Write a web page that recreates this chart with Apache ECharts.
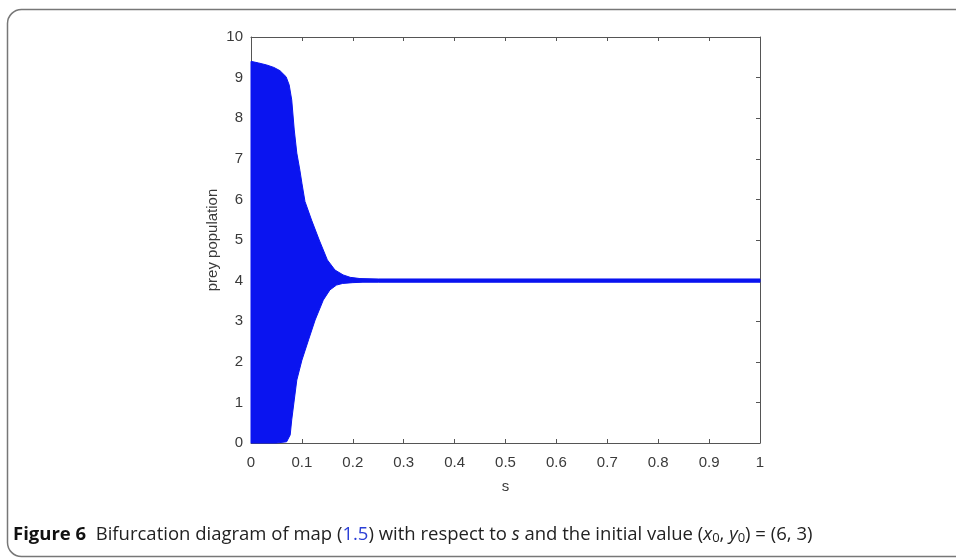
<!DOCTYPE html>
<html>
<head>
<meta charset="utf-8">
<script src="https://cdn.jsdelivr.net/npm/echarts@6/dist/echarts.min.js"></script>
<style>
  html, body { margin: 0; padding: 0; background: #fff; }
  #main { width: 956px; height: 558px; }
</style>
</head>
<body>
<div id="main"></div>
<script>
// upper edge of the blue band (s, prey population)
var upperS = [0, 0.015, 0.031, 0.045, 0.057, 0.069, 0.075, 0.080, 0.085, 0.090, 0.096, 0.100, 0.106, 0.119, 0.134, 0.150, 0.165, 0.181, 0.195, 0.214, 0.25, 1];
var upperV = [9.40, 9.36, 9.31, 9.25, 9.17, 9.02, 8.82, 8.45, 7.71, 7.14, 6.72, 6.40, 5.95, 5.49, 5.00, 4.51, 4.26, 4.14, 4.08, 4.05, 4.04, 4.04];
// lower edge of the blue band
var lowerS = [0, 0.05, 0.070, 0.077, 0.080, 0.085, 0.090, 0.100, 0.113, 0.126, 0.142, 0.155, 0.168, 0.180, 0.200, 0.220, 0.25, 1];
var lowerV = [0, 0, 0.03, 0.20, 0.57, 1.06, 1.55, 2.04, 2.54, 3.03, 3.52, 3.77, 3.89, 3.93, 3.95, 3.96, 3.96, 3.96];

var xTicks = [0, 0.1, 0.2, 0.3, 0.4, 0.5, 0.6, 0.7, 0.8, 0.9, 1];
var yTicks = [0, 1, 2, 3, 4, 5, 6, 7, 8, 9, 10];

var chart = echarts.init(document.getElementById('main'));

var axisCol = '#555';
var labelCol = '#3a3a3a';
var font = 'Liberation Sans, Arial, sans-serif';
var capFont = 'Open Sans, sans-serif';

function boxAxis(pos, isX, show) {
  return {
    type: 'value',
    position: pos,
    min: 0,
    max: isX ? 1 : 10,
    interval: isX ? 0.1 : 1,
    axisLine: { show: true, onZero: false, lineStyle: { color: axisCol, width: 1 } },
    axisTick: { show: true, inside: true, length: 4, lineStyle: { color: axisCol } },
    axisLabel: {
      show: show,
      color: labelCol,
      fontSize: 15,
      fontFamily: font,
      margin: isX ? 12 : 8,
      formatter: function (v) { return String(Math.round(v * 10) / 10); }
    },
    splitLine: { show: false }
  };
}

var xBottom = boxAxis('bottom', true, true);
xBottom.name = 's';
xBottom.nameLocation = 'middle';
xBottom.nameGap = 36;
xBottom.nameMoveOverlap = false;
xBottom.nameTextStyle = { color: labelCol, fontSize: 15, fontFamily: font, verticalAlign: 'top' };

var yLeft = boxAxis('left', false, true);
yLeft.name = 'prey population';
yLeft.nameLocation = 'middle';
yLeft.nameGap = 31;
yLeft.nameMoveOverlap = false;
yLeft.nameTextStyle = { color: labelCol, fontSize: 15, fontFamily: font };

var option = {
  backgroundColor: '#fff',
  animation: false,
  grid: { left: 251, right: 196, top: 37, bottom: 115 },
  xAxis: [xBottom, boxAxis('top', true, false)],
  yAxis: [yLeft, boxAxis('right', false, false)],
  title: {
    left: 13,
    top: 524,
    padding: 0,
    text: '{b|Figure 6}  Bifurcation diagram of map ({c|1.5}) with respect to {i|s} and the initial value ({i|x}{sub|0}, {i|y}{sub|0}) = (6, 3)',
    textStyle: {
      fontFamily: capFont,
      fontSize: 18.5,
      fontWeight: 'normal',
      color: '#222',
      rich: {
        b: { fontWeight: 'bold', fontSize: 18.5, color: '#111', fontFamily: capFont },
        c: { color: '#2b3fd6', fontSize: 18.5, fontWeight: 'normal', fontFamily: capFont },
        i: { fontStyle: 'italic', fontSize: 18.5, fontWeight: 'normal', fontFamily: capFont },
        sub: { fontSize: 13, fontWeight: 'normal', padding: [8, 0, 0, 0], fontFamily: capFont }
      }
    }
  },
  graphic: [{
    type: 'rect',
    shape: { x: 7.5, y: 9.5, width: 1000, height: 547, r: 14 },
    style: { fill: 'none', stroke: '#777', lineWidth: 1.5 },
    silent: true
  }],
  series: [{
    type: 'custom',
    coordinateSystem: 'cartesian2d',
    data: [[0, 0]],
    clip: false,
    renderItem: function (params, api) {
      var pts = [];
      for (var i = 0; i < upperS.length; i++) pts.push(api.coord([upperS[i], upperV[i]]));
      for (var j = lowerS.length - 1; j >= 0; j--) pts.push(api.coord([lowerS[j], lowerV[j]]));
      return {
        type: 'polygon',
        shape: { points: pts, smooth: 0 },
        style: { fill: '#0a14f0', stroke: '#0a14f0', lineWidth: 1 }
      };
    }
  }]
};

chart.setOption(option);
</script>
</body>
</html>
